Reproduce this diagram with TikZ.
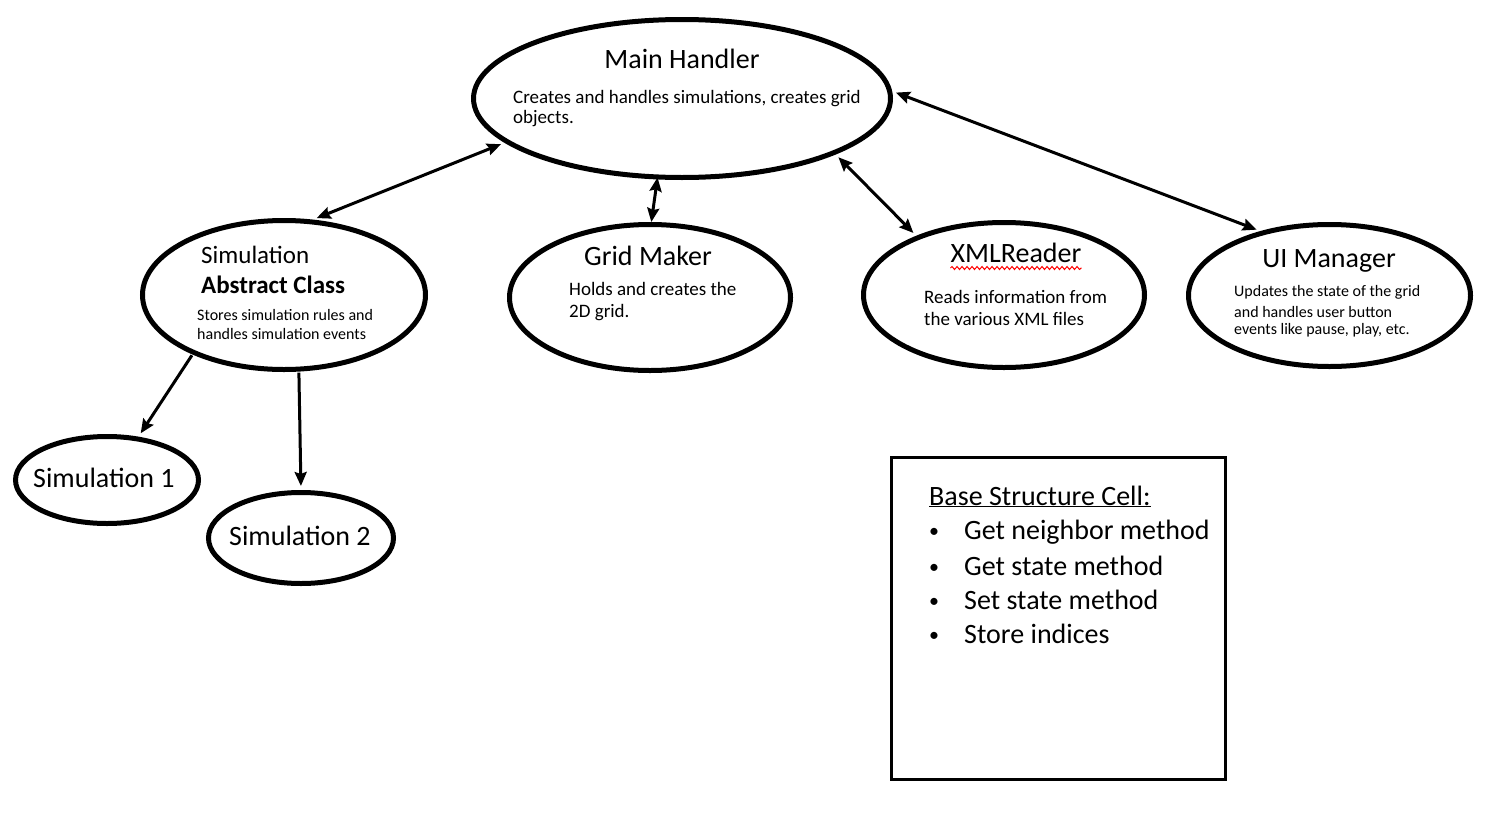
\documentclass[tikz,border=0pt]{standalone}
\usepackage{fontspec}
\setmainfont{Carlito}
\usetikzlibrary{shapes.geometric,arrows.meta,decorations.pathmorphing}

\tikzset{
  blob/.style={draw, ellipse, line width=5pt, inner sep=0pt},
  link/.style={line width=3pt, shorten <=4pt, shorten >=4pt},
  head/.style={font=\fontsize{28}{34}\selectfont, inner sep=0pt},
  subhead/.style={font=\fontsize{25}{30}\selectfont, inner sep=0pt, anchor=base west},
  body/.style={font=\fontsize{19}{23}\selectfont, inner sep=0pt, anchor=base west},
  small/.style={font=\fontsize{16}{19}\selectfont, inner sep=0pt, anchor=base west},
  dot/.style={font=\fontsize{20}{24}\selectfont, inner sep=0pt, anchor=base west},
}

\begin{document}
\begin{tikzpicture}[x=1pt,y=-1pt,>={Stealth[length=14pt,width=12pt,inset=2pt]}]
  \useasboundingbox (0,0) rectangle (1510,822);
  % ellipses
  \node[blob, minimum width=417pt, minimum height=158pt] (main) at (682,98.5) {};
  \node[blob, minimum width=283pt, minimum height=149pt] (sim) at (284,295) {};
  \node[blob, minimum width=281pt, minimum height=146pt] (grid) at (650,297.5) {};
  \node[blob, minimum width=281pt, minimum height=145pt] (xml) at (1004,295) {};
  \node[blob, minimum width=282pt, minimum height=142pt] (ui) at (1329.5,295.5) {};
  \node[blob, minimum width=183pt, minimum height=87pt] (simone) at (107,480) {};
  \node[blob, minimum width=185pt, minimum height=91pt] (simtwo) at (301,538) {};
  % main handler text
  \node[head, anchor=base] (maintitle) at (682,68) {Main Handler};
  \node[body] (mainline1) at (513,103) {Creates and handles simulations, creates grid};
  \node[body] (mainline2) at (513,123) {objects.};
  % simulation text
  \node[subhead] (simtitle) at (201,263) {Simulation};
  \node[subhead, font=\fontsize{25}{30}\selectfont\bfseries] (simabstract) at (201,293) {Abstract Class};
  \node[small] (simline1) at (197,320) {Stores simulation rules and};
  \node[small] (simline2) at (197,339) {handles simulation events};
  % grid maker text
  \node[head, anchor=base] (gridtitle) at (648,265) {Grid Maker};
  \node[body] (gridline1) at (569,295) {Holds and creates the};
  \node[body] (gridline2) at (569,317) {2D grid.};
  % xml reader text
  \node[head, anchor=base] (xmltitle) at (1016,262) {XMLReader};
  \draw[red, line width=1pt, decorate, decoration={snake, amplitude=1.5pt, segment length=5pt}]
    ([yshift=-6pt]xmltitle.base west) -- ([yshift=-6pt]xmltitle.base east);
  \node[body] (xmlline1) at (924,303) {Reads information from};
  \node[body] (xmlline2) at (924,325) {the various XML files};
  % ui manager text
  \node[head, anchor=base] (uititle) at (1329,267) {UI Manager};
  \node[small] (uiline1) at (1234,296) {Updates the state of the grid};
  \node[small] (uiline2) at (1234,317) {and handles user button};
  \node[small] (uiline3) at (1234,334) {events like pause, play, etc.};
  % subclasses
  \node[head, anchor=base] (simonetext) at (104,487) {Simulation 1};
  \node[head, anchor=base] (simtwotext) at (300,545) {Simulation 2};
  % connectors
  \draw[link, <->] (main.194) -- (sim.69);
  \draw[link, <->, shorten <=-2pt, shorten >=0pt] (main.253) -- (grid.89);
  \draw[link, <->] (main.340) -- (xml.146);
  \draw[link, <->] (main.2) -- (ui.137);
  \draw[link, ->, shorten <=1pt] (sim.213) -- (simone.54);
  \draw[link, ->, shorten <=1pt] (sim.281) -- (simtwo.90);
  % cell box
  \node[draw, line width=3pt, minimum width=334pt, minimum height=322pt, inner sep=0pt] (cellbox) at (1058.5,618.5) {};
  \node[head, anchor=base west] (celltitle) at (929,505) {\underline{Base Structure Cell:}};
  \node[dot] (bullet1) at (929,537) {\textbullet};
  \node[dot] (bullet2) at (929,573) {\textbullet};
  \node[dot] (bullet3) at (929,607) {\textbullet};
  \node[dot] (bullet4) at (929,641) {\textbullet};
  \node[head, anchor=base west] (item1) at (964,539) {Get neighbor method};
  \node[head, anchor=base west] (item2) at (964,575) {Get state method};
  \node[head, anchor=base west] (item3) at (964,609) {Set state method};
  \node[head, anchor=base west] (item4) at (964,643) {Store indices};
\end{tikzpicture}
\end{document}
